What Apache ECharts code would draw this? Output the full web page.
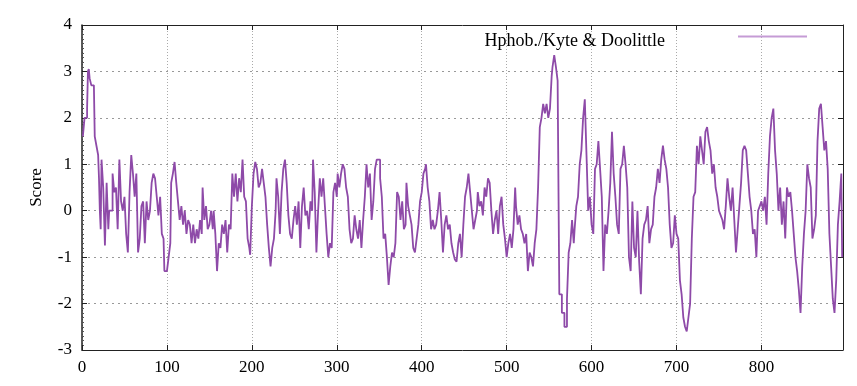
<!DOCTYPE html>
<html>
<head>
<meta charset="utf-8">
<script src="https://cdn.jsdelivr.net/npm/echarts@6/dist/echarts.min.js"></script>
<style>
  html, body { margin: 0; padding: 0; background: #fff; }
  #chart { width: 857px; height: 386px; }
</style>
</head>
<body>
<div id="chart"></div>
<script>
// residue positions and Kyte & Doolittle scores
const residues = [
  1, 3, 6, 7, 8, 9, 11, 14, 15, 17, 19, 20, 21, 22, 23, 25, 27, 29, 31, 32,
  36, 38, 40, 42, 44, 46, 48, 50, 52, 54, 56, 58, 60, 62, 64, 66, 68, 70, 72, 74,
  76, 78, 80, 82, 84, 86, 88, 90, 92, 94, 96, 97, 100, 102, 104, 105, 107, 109, 111, 113,
  115, 117, 119, 121, 123, 125, 127, 129, 131, 133, 135, 137, 139, 141, 142, 144, 146, 148, 150, 152,
  154, 155, 157, 159, 161, 163, 165, 167, 169, 171, 173, 175, 177, 179, 181, 183, 185, 187, 189, 191,
  193, 195, 197, 198, 200, 202, 204, 206, 208, 210, 212, 214, 216, 218, 220, 222, 224, 226, 228, 229,
  231, 233, 235, 237, 239, 241, 243, 245, 247, 249, 251, 253, 255, 257, 259, 261, 263, 265, 267, 269,
  271, 272, 274, 276, 278, 280, 282, 284, 286, 288, 290, 292, 294, 296, 298, 300, 301, 303, 305, 307,
  309, 311, 313, 315, 317, 319, 321, 323, 325, 327, 329, 331, 333, 335, 337, 339, 341, 343, 345, 347,
  349, 351, 353, 355, 357, 359, 361, 363, 365, 367, 369, 371, 373, 375, 377, 379, 381, 382, 384, 386,
  388, 390, 392, 394, 396, 398, 400, 402, 404, 405, 407, 409, 411, 413, 415, 417, 419, 421, 423, 425,
  427, 429, 431, 433, 435, 437, 439, 441, 443, 445, 447, 449, 451, 453, 455, 457, 459, 461, 463, 465,
  466, 468, 470, 472, 474, 476, 478, 480, 482, 484, 486, 488, 490, 492, 494, 496, 498, 500, 502, 504,
  506, 508, 510, 511, 513, 515, 517, 519, 521, 523, 525, 527, 529, 531, 533, 535, 537, 539, 541, 543,
  545, 547, 549, 551, 553, 554, 556, 558, 560, 562, 565, 568, 569, 571, 573, 575, 577, 579, 580, 582,
  584, 586, 588, 590, 592, 594, 596, 598, 600, 602, 604, 606, 608, 610, 612, 614, 616, 618, 620, 622,
  624, 626, 628, 630, 632, 634, 636, 638, 640, 642, 644, 646, 648, 650, 652, 654, 656, 658, 660, 662,
  664, 666, 668, 670, 672, 674, 676, 678, 680, 682, 684, 686, 688, 690, 692, 694, 696, 698, 700, 702,
  704, 706, 708, 710, 712, 714, 716, 718, 720, 722, 724, 726, 728, 730, 732, 734, 736, 738, 740, 742,
  744, 746, 748, 750, 752, 754, 756, 758, 760, 762, 764, 766, 768, 770, 772, 774, 776, 778, 780, 782,
  784, 786, 788, 790, 792, 794, 796, 798, 800, 802, 804, 806, 808, 810, 812, 814, 816, 818, 820, 822,
  824, 826, 828, 830, 832, 834, 836, 838, 840, 842, 844, 846, 848, 850, 852, 854, 856, 858, 860, 862,
  864, 866, 868, 870, 872, 874, 876, 878, 880, 882, 884, 886, 888, 890, 892, 894, 895
];
const scores = [
  1.6, 2.0, 2.2, 3.0, 3.05, 2.85, 2.7, 2.7, 1.6, 1.4, 1.2, 0.7, 0.0, -0.4, 1.1, 0.5, -0.75, 0.6, -0.4, 0.0,
  0.8, 0.4, 0.5, -0.4, 1.1, 0.2, 0.0, 0.3, -0.5, -0.9, 0.4, 1.2, 0.8, 0.3, 0.8, -0.9, -0.6, 0.1, 0.2, -0.7,
  0.2, -0.2, 0.0, 0.6, 0.8, 0.7, 0.3, -0.1, 0.3, -0.5, -0.6, -1.3, -1.3, -1.0, -0.7, 0.6, 0.8, 1.05, 0.6, 0.2,
  -0.2, 0.1, -0.3, 0.0, -0.5, -0.2, -0.3, -0.7, -0.3, -0.7, -0.4, -0.6, -0.2, -0.5, 0.5, -0.2, 0.1, -0.4, -0.3, 0.0,
  -0.4, 0.0, -0.5, -1.3, -0.7, -0.8, -0.3, -0.5, -0.2, -0.9, -0.3, -0.4, 0.8, 0.3, 0.8, 0.2, 0.7, 0.4, 1.1, 0.3,
  0.2, -0.6, -0.8, -0.95, 0.1, 0.8, 1.05, 0.9, 0.5, 0.6, 0.9, 0.6, 0.3, -0.3, -0.8, -1.2, -0.8, -0.6, 0.0, 0.7,
  0.3, -0.5, 0.4, 0.9, 1.1, 0.6, -0.1, -0.5, -0.6, -0.2, 0.1, -0.3, 0.2, -0.8, 0.1, 0.5, -0.1, 0.0, -0.4, 0.2,
  0.0, 1.1, 0.4, -0.9, 0.0, 0.7, 0.3, 0.7, 0.1, -0.5, -1.0, -0.7, -0.8, 0.4, 0.6, 0.3, 0.8, 0.5, 0.8, 1.0,
  0.9, 0.5, 0.3, -0.4, -0.7, -0.6, -0.1, -0.4, -0.6, -0.2, -0.8, -0.2, 0.3, 1.0, 0.5, 0.8, -0.2, 0.2, 0.9, 1.1,
  1.1, 0.7, 0.3, -0.6, -0.5, -1.0, -1.6, -1.2, -0.9, -1.0, -0.7, 0.4, 0.3, -0.2, 0.2, -0.4, -0.3, 0.6, 0.1, -0.1,
  -0.3, -0.8, -0.9, -0.6, -0.3, 0.2, 0.4, 0.8, 0.9, 1.0, 0.5, 0.2, -0.4, -0.2, -0.4, -0.3, 0.0, 0.4, -0.2, -0.9,
  -0.3, -0.1, -0.4, -0.3, -0.7, -0.9, -1.05, -1.1, -0.7, -0.5, -1.0, -0.3, 0.3, 0.5, 0.8, 0.4, 0.0, -0.4, -0.2, 0.0,
  0.4, 0.1, 0.2, -0.1, 0.5, 0.3, 0.7, 0.6, 0.0, -0.5, -0.2, 0.0, -0.5, 0.1, 0.3, -0.3, -0.6, -1.0, -0.7, -0.5,
  -0.8, -0.4, 0.5, 0.1, -0.3, -0.1, -0.4, -0.5, -0.7, -0.5, -1.3, -0.9, -1.0, -1.2, -0.7, -0.4, 0.5, 1.8, 2.0, 2.3,
  2.1, 2.3, 2.0, 2.2, 2.9, 3.1, 3.35, 3.1, 2.8, -1.8, -2.2, -2.5, -2.5, -1.9, -0.9, -0.7, -0.2, -0.7, -0.4, 0.1,
  0.3, 1.0, 1.3, 2.0, 2.4, 1.2, 0.0, 0.3, -0.3, -0.5, 0.9, 1.0, 1.5, 0.9, 0.3, -1.3, -0.3, -0.5, 0.0, 0.6,
  1.7, 0.8, 0.3, -0.3, -0.5, 0.9, 1.0, 1.4, 1.0, 0.5, -1.0, -1.3, 0.2, -0.8, -1.0, 0.0, -1.1, -1.8, -0.6, -0.3,
  -0.2, 0.1, -0.7, -0.4, -0.3, 0.3, 0.5, 0.9, 0.6, 1.1, 1.4, 1.1, 0.9, 0.5, -0.3, -0.8, -0.7, -0.1, -0.5, -0.6,
  -1.5, -1.8, -2.3, -2.5, -2.6, -2.3, -2.0, -0.6, 0.3, 0.4, 1.4, 1.0, 1.6, 1.3, 1.0, 1.7, 1.8, 1.5, 1.3, 0.8,
  1.0, 0.5, 0.3, 0.0, -0.1, -0.2, -0.4, 0.1, 0.7, 0.3, 0.0, 0.5, -0.2, -0.9, -0.4, 0.1, 0.6, 1.3, 1.4, 1.3,
  0.8, 0.3, 0.0, -0.5, -0.4, -1.0, 0.0, 0.1, 0.2, 0.0, 0.3, -0.3, 0.8, 1.6, 2.0, 2.2, 1.3, 0.8, 0.0, 0.5,
  -0.3, 0.2, -0.6, 0.5, 0.3, 0.4, 0.0, -0.5, -1.0, -1.3, -1.7, -2.2, -1.2, -0.5, 0.0, 1.0, 0.7, 0.5, -0.6, -0.4,
  -0.1, 1.5, 2.2, 2.3, 1.8, 1.3, 1.5, 0.9, -0.5, -1.2, -1.9, -2.2, -1.5, -0.3, 0.2, 0.8, -1.0
];
const seriesName = 'Hphob./Kyte & Doolittle';

const font = 'Liberation Serif';
const frame = { onZero: false, lineStyle: { color: '#222', width: 1 } };

const chart = echarts.init(document.getElementById('chart'));
chart.setOption({
  animation: false,
  grid: { left: 82, right: 14, top: 25, bottom: 36 },
  legend: {
    data: [seriesName],
    right: 45,
    top: 27,
    align: 'right',
    icon: 'rect',
    itemWidth: 69,
    itemHeight: 2,
    itemStyle: { color: '#c59bd5' },
    formatter: name => '{t|' + name + '}',
    textStyle: {
      fontFamily: font, fontSize: 18, color: '#000',
      rich: { t: { fontFamily: font, fontSize: 18, color: '#000', padding: [9, 68, 0, 0] } }
    }
  },
  xAxis: [
    {
      type: 'value', min: 0, max: 896, interval: 100,
      axisLine: frame,
      axisTick: { inside: true, length: 5, lineStyle: { color: '#222' } },
      axisLabel: { fontFamily: font, fontSize: 17, color: '#000', margin: 9,
        showMaxLabel: false },
      splitLine: { show: true, lineStyle: { color: '#aaa', type: [1, 2], width: 1 } }
    },
    {
      type: 'value', position: 'top', min: 0, max: 896, interval: 100,
      axisLine: frame,
      axisTick: { inside: true, length: 5, lineStyle: { color: '#222' } },
      axisLabel: { show: false },
      splitLine: { show: false }
    }
  ],
  yAxis: [
    {
      type: 'value', min: -3, max: 4, interval: 1,
      name: 'Score', nameLocation: 'middle', nameGap: 37,
      nameTextStyle: { fontFamily: font, fontSize: 17, color: '#000' },
      axisLine: { show: true, onZero: false, lineStyle: { color: '#222', width: 1.5 } },
      axisTick: { show: true, inside: true, length: 5, lineStyle: { color: '#222' } },
      minorTick: { show: true, splitNumber: 10, length: 2, lineStyle: { color: '#555' } },
      axisLabel: { fontFamily: font, fontSize: 17, color: '#000', margin: 10 },
      splitLine: { show: true, lineStyle: { color: '#999', type: [2, 4], width: 1 } }
    },
    {
      type: 'value', position: 'right', min: -3, max: 4, interval: 1,
      axisLine: { show: true, onZero: false, lineStyle: { color: '#222', width: 1 } },
      axisTick: { show: true, inside: true, length: 5, lineStyle: { color: '#222' } },
      axisLabel: { show: false },
      splitLine: { show: false }
    }
  ],
  series: [
    {
      name: seriesName,
      type: 'line',
      step: 'end',
      symbol: 'none',
      lineStyle: { color: '#8e4aa8', width: 1.8 },
      itemStyle: { color: '#8e4aa8' },
      data: residues.map((r, i) => [r, scores[i]])
    }
  ]
});
</script>
</body>
</html>
